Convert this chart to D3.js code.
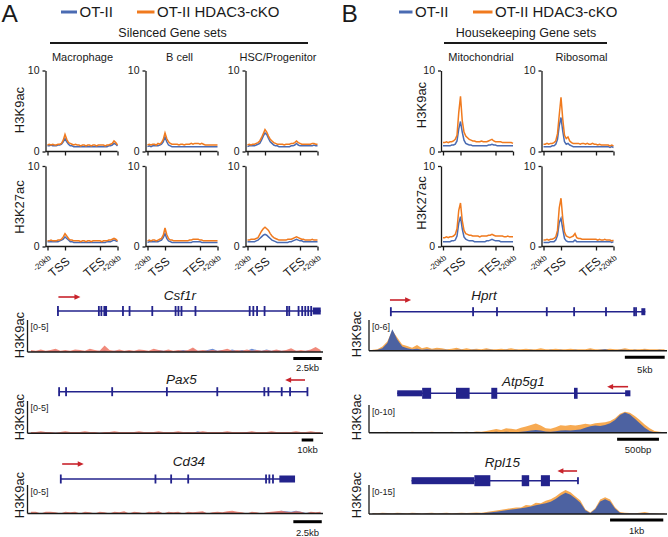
<!DOCTYPE html>
<html><head><meta charset="utf-8">
<script src="https://cdn.jsdelivr.net/npm/d3@7"></script>
<style>
html,body{margin:0;padding:0;background:#fff;}
svg{display:block;font-family:"Liberation Sans",Arial,sans-serif;}
</style></head><body>
<svg id="c" width="668" height="537"></svg>
<script>
// ---------- labels ----------
const seriesNames = ["OT-II", "OT-II HDAC3-cKO"];
const silencedSets = ["Macrophage", "B cell", "HSC/Progenitor"];
const housekeepingSets = ["Mitochondrial", "Ribosomal"];
const marks = ["H3K9ac", "H3K27ac"];
const profileTicks = ["-20kb", "TSS", "TES", "+20kb"];
const profileTickPos = [0, 10, 30, 40];
const profileYTicks = [0, 10];

// ---------- metagene profiles (41 bins: -20kb .. TSS .. TES .. +20kb) ----------
const macK9o = [0.8,0.9,0.8,0.9,0.8,0.8,0.9,0.9,1.0,1.4,2.1,1.5,1.1,1.0,0.9,0.8,0.9,0.8,0.8,0.7,0.8,0.8,0.7,0.8,0.8,0.7,0.8,0.8,0.7,0.8,0.8,0.8,0.8,0.7,0.8,0.8,0.9,1.0,1.3,1.1,0.8];
const macK9b = [0.7,0.7,0.8,0.7,0.7,0.7,0.8,0.8,0.9,1.2,1.6,1.2,0.9,0.7,0.7,0.6,0.6,0.6,0.6,0.6,0.6,0.6,0.6,0.6,0.6,0.6,0.6,0.6,0.6,0.6,0.6,0.6,0.6,0.6,0.6,0.7,0.7,0.8,1.0,0.9,0.7];
const bK9o = [0.8,0.9,0.8,0.9,0.9,0.8,1.0,0.9,1.1,1.5,2.3,1.6,1.2,1.0,0.9,0.9,0.9,0.9,0.8,0.9,0.9,0.8,0.9,0.9,0.9,1.0,0.9,1.0,1.0,1.0,0.9,1.0,0.9,0.8,0.8,0.8,0.8,0.8,0.8,0.8,0.8];
const bK9b = [0.6,0.7,0.6,0.7,0.7,0.7,0.7,0.8,0.9,1.2,1.8,1.2,0.8,0.7,0.6,0.6,0.6,0.6,0.6,0.6,0.6,0.6,0.6,0.6,0.6,0.6,0.6,0.6,0.6,0.6,0.6,0.6,0.6,0.6,0.6,0.6,0.6,0.6,0.6,0.6,0.6];
const hscK9o = [0.8,0.9,0.8,0.9,0.9,1.0,1.1,1.3,1.7,2.2,2.7,2.4,1.9,1.5,1.3,1.1,1.0,0.9,0.9,0.9,0.9,0.8,0.9,0.9,0.9,1.0,1.0,1.1,1.3,1.1,1.0,0.9,0.9,0.9,0.9,0.9,0.9,1.0,1.0,0.9,0.9];
const hscK9b = [0.6,0.7,0.7,0.7,0.7,0.8,0.9,1.0,1.4,1.9,2.3,2.1,1.6,1.2,1.0,0.8,0.7,0.7,0.6,0.6,0.6,0.6,0.6,0.6,0.6,0.7,0.7,0.8,1.0,0.8,0.7,0.7,0.7,0.7,0.7,0.7,0.7,0.7,0.8,0.7,0.7];
const macK27o = [0.7,0.7,0.8,0.7,0.7,0.7,0.8,0.8,0.9,1.2,1.6,1.3,1.0,0.8,0.8,0.7,0.7,0.7,0.7,0.6,0.7,0.7,0.6,0.7,0.7,0.6,0.7,0.7,0.7,0.7,0.7,0.6,0.7,0.7,0.7,0.8,0.8,0.9,1.0,0.9,0.7];
const macK27b = [0.6,0.6,0.6,0.6,0.6,0.6,0.6,0.7,0.8,0.9,1.2,1.0,0.8,0.6,0.6,0.5,0.5,0.5,0.5,0.5,0.5,0.5,0.5,0.5,0.5,0.5,0.5,0.5,0.5,0.5,0.5,0.5,0.5,0.5,0.6,0.6,0.6,0.7,0.8,0.7,0.6];
const bK27o = [0.7,0.8,0.7,0.8,0.8,0.7,0.8,0.9,1.0,1.4,2.3,1.5,1.0,0.8,0.8,0.7,0.7,0.7,0.7,0.7,0.7,0.7,0.7,0.7,0.8,0.8,0.9,0.9,0.9,0.9,0.8,0.8,0.7,0.7,0.7,0.7,0.7,0.7,0.7,0.7,0.7];
const bK27b = [0.5,0.6,0.6,0.6,0.6,0.6,0.6,0.7,0.8,1.1,1.6,1.0,0.7,0.6,0.5,0.5,0.5,0.5,0.5,0.5,0.5,0.5,0.5,0.5,0.5,0.5,0.6,0.6,0.6,0.6,0.6,0.5,0.5,0.5,0.5,0.5,0.5,0.5,0.5,0.5,0.5];
const hscK27o = [0.8,0.8,0.9,0.9,0.9,1.0,1.1,1.5,1.9,2.2,2.4,2.2,2.0,1.6,1.3,1.1,1.0,0.9,0.8,0.8,0.8,0.8,0.8,0.9,0.9,0.9,1.0,1.1,1.2,1.1,1.0,0.9,0.9,0.8,0.8,0.8,0.8,0.9,0.8,0.8,0.8];
const hscK27b = [0.6,0.6,0.6,0.6,0.6,0.7,0.8,1.0,1.2,1.4,1.5,1.4,1.2,1.0,0.8,0.7,0.6,0.5,0.5,0.5,0.5,0.5,0.5,0.5,0.6,0.6,0.7,0.8,0.9,0.8,0.7,0.7,0.6,0.6,0.6,0.6,0.6,0.6,0.6,0.6,0.6];
const mitK9o = [1.1,1.1,1.2,1.1,1.2,1.2,1.3,1.5,2.0,4.8,6.8,3.8,2.4,1.9,1.7,1.5,1.4,1.3,1.3,1.2,1.2,1.2,1.3,1.2,1.2,1.2,1.3,1.4,1.5,1.3,1.2,1.2,1.2,1.2,1.1,1.1,1.1,1.1,1.1,1.1,1.0];
const mitK9b = [0.7,0.7,0.7,0.7,0.7,0.8,0.8,0.9,1.3,2.8,3.7,2.4,1.4,1.0,0.9,0.8,0.8,0.7,0.7,0.7,0.7,0.7,0.7,0.7,0.7,0.7,0.8,0.8,0.9,0.8,0.8,0.7,0.7,0.7,0.7,0.7,0.7,0.7,0.7,0.7,0.7];
const riboK9o = [0.9,0.9,1.0,0.9,1.0,1.0,1.1,1.3,2.2,4.5,6.7,4.0,2.0,1.6,1.8,1.3,1.1,1.0,1.0,1.0,1.0,0.9,1.0,1.0,0.9,1.0,0.9,0.9,1.0,0.9,0.9,0.8,0.9,0.8,0.8,0.8,0.8,0.8,0.7,0.8,0.7];
const riboK9b = [0.6,0.6,0.6,0.6,0.6,0.7,0.7,0.9,1.5,3.2,4.2,2.5,1.2,0.9,1.0,0.8,0.7,0.6,0.6,0.6,0.6,0.6,0.6,0.6,0.6,0.6,0.6,0.6,0.6,0.6,0.6,0.6,0.6,0.6,0.6,0.6,0.6,0.6,0.5,0.6,0.5];
const mitK27o = [1.1,1.1,1.2,1.1,1.2,1.2,1.3,1.5,2.2,4.5,5.4,3.2,2.0,1.6,1.5,1.4,1.4,1.3,1.3,1.3,1.3,1.2,1.3,1.3,1.3,1.3,1.4,1.4,1.5,1.4,1.3,1.3,1.3,1.3,1.3,1.2,1.2,1.3,1.2,1.2,1.2];
const mitK27b = [0.6,0.6,0.6,0.6,0.6,0.7,0.7,0.8,1.3,2.9,3.7,2.2,1.2,0.9,0.8,0.7,0.7,0.7,0.6,0.6,0.6,0.6,0.6,0.6,0.6,0.7,0.7,0.8,0.9,0.8,0.7,0.7,0.7,0.6,0.6,0.6,0.6,0.6,0.6,0.6,0.6];
const riboK27o = [0.8,0.8,0.9,0.8,0.9,0.9,1.0,1.2,2.0,4.8,6.0,3.5,1.8,1.3,1.2,1.1,1.2,1.3,1.6,1.1,1.0,1.0,0.9,0.9,0.9,0.9,0.9,0.9,0.9,0.9,0.9,0.8,0.9,0.8,0.8,0.9,0.8,0.8,0.8,0.7,0.8];
const riboK27b = [0.5,0.5,0.5,0.5,0.6,0.6,0.6,0.8,1.4,3.0,3.5,2.2,1.0,0.7,0.6,0.6,0.6,0.6,0.8,0.6,0.6,0.6,0.6,0.6,0.6,0.6,0.6,0.6,0.6,0.6,0.6,0.6,0.6,0.6,0.6,0.6,0.6,0.6,0.6,0.5,0.6];

// ---------- browser tracks (60 bins across window) ----------
const csfRed = [0.3,0.2,0.4,0.2,0.3,0.5,0.2,0.3,0.2,0.4, 0.3,0.2,0.5,0.3,0.2,1.0,0.3,0.2,0.4,0.2, 0.3,0.2,0.4,0.3,0.2,0.5,0.3,0.2,0.4,0.2, 0.3,0.2,0.3,0.7,0.2,0.3,0.2,0.3,0.2,0.3, 0.5,0.2,0.3,0.2,0.4,0.2,0.3,0.2,0.3,0.2, 0.4,0.2,0.3,0.6,0.2,0.3,0.2,0.4,0.8,0.3];
const csfBlue = [0.2,0.1,0.2,0.1,0.2,0.3,0.1,0.2,0.1,0.2, 0.2,0.1,0.2,0.1,0.2,0.3,0.1,0.2,0.2,0.1, 0.2,0.1,0.2,0.2,0.1,0.2,0.3,0.2,0.2,0.1, 0.2,0.3,0.2,0.4,0.2,0.2,0.3,0.5,0.2,0.3, 0.2,0.4,0.2,0.3,0.2,0.5,0.3,0.2,0.4,0.2, 0.3,0.2,0.2,0.3,0.2,0.1,0.2,0.3,0.2,0.2];
const paxRed = [0.2,0.2,0.3,0.2,0.2,0.1,0.2,0.3,0.2,0.2, 0.2,0.3,0.2,0.2,0.1,0.2,0.2,0.3,0.2,0.2, 0.2,0.2,0.3,0.2,0.2,0.2,0.3,0.2,0.2,0.2, 0.3,0.2,0.2,0.2,0.2,0.3,0.2,0.2,0.2,0.2, 0.3,0.2,0.2,0.2,0.2,0.3,0.2,0.2,0.2,0.3, 0.2,0.2,0.2,0.2,0.3,0.2,0.2,0.3,0.2,0.2];
const paxBlue = [0.1,0.1,0.1,0.2,0.1,0.1,0.1,0.1,0.1,0.1, 0.1,0.1,0.1,0.1,0.1,0.1,0.2,0.1,0.1,0.1, 0.1,0.1,0.1,0.1,0.1,0.1,0.1,0.1,0.1,0.1, 0.1,0.1,0.2,0.1,0.3,0.1,0.1,0.1,0.1,0.1, 0.1,0.1,0.1,0.1,0.2,0.1,0.1,0.1,0.1,0.1, 0.1,0.1,0.1,0.1,0.1,0.1,0.1,0.1,0.1,0.1];
const cdRed = [0.3,0.3,0.0,0.3,0.3,0.2,0.0,0.3,0.2,0.3, 0.0,0.3,0.2,0.0,0.3,0.2,0.0,0.3,0.2,0.4, 0.0,0.3,0.2,0.0,0.3,0.2,0.4,0.0,0.3,0.2, 0.3,0.0,0.3,0.2,0.3,0.4,0.0,0.2,0.3,0.2, 0.4,0.5,0.3,0.2,0.0,0.3,0.2,0.0,0.2,0.3, 0.4,0.5,0.3,0.2,0.4,0.3,0.0,0.3,0.2,0.3];
const cdBlue = [0.1,0.1,0.0,0.1,0.1,0.1,0.0,0.1,0.1,0.1, 0.0,0.1,0.1,0.0,0.1,0.1,0.0,0.1,0.1,0.1, 0.0,0.1,0.1,0.0,0.1,0.1,0.2,0.0,0.1,0.1, 0.1,0.0,0.1,0.1,0.1,0.2,0.0,0.1,0.1,0.1, 0.2,0.2,0.1,0.1,0.0,0.1,0.1,0.0,0.1,0.2, 0.3,0.5,0.4,0.3,0.5,0.3,0.1,0.2,0.1,0.2];
const hprtOr = [0.2,0.3,0.8,1.8,4.0,2.6,1.2,0.9,0.6,1.1, 0.5,0.7,0.4,0.6,0.5,0.3,0.4,0.6,0.3,0.5, 0.3,0.4,0.3,0.5,0.3,0.3,0.4,0.3,0.5,0.3, 0.3,0.4,0.3,0.3,0.5,0.3,0.3,0.4,0.3,0.3, 0.4,0.3,0.3,0.3,0.5,0.3,0.3,0.3,0.4,0.3, 0.3,0.5,0.3,0.3,0.3,0.4,0.3,0.3,0.3,0.3];
const hprtBlue = [0.1,0.2,0.5,1.5,4.2,2.2,0.8,0.5,0.3,0.4, 0.2,0.3,0.2,0.2,0.2,0.2,0.1,0.2,0.2,0.1, 0.2,0.2,0.1,0.2,0.2,0.1,0.1,0.2,0.1,0.2, 0.1,0.1,0.2,0.1,0.1,0.1,0.2,0.1,0.2,0.1, 0.1,0.2,0.1,0.1,0.2,0.1,0.2,0.3,0.1,0.1, 0.2,0.2,0.1,0.2,0.1,0.2,0.1,0.1,0.2,0.1];
const atpOr = [0.2,0.1,0.2,0.3,0.1,0.2,0.2,0.1,0.3,0.2, 0.1,0.2,0.3,0.2,0.1,0.2,0.3,0.2,0.2,0.3, 0.2,0.4,0.3,0.6,1.0,1.3,1.0,1.6,1.4,1.2, 1.8,2.2,2.8,3.3,2.6,1.6,1.4,2.0,2.7,2.5, 2.8,2.6,2.9,3.2,3.0,3.4,3.6,3.8,4.2,5.2, 6.8,7.6,7.2,6.0,4.6,3.0,1.6,0.6,0.3,0.2];
const atpBlue = [0.1,0.1,0.0,0.1,0.1,0.0,0.1,0.1,0.1,0.0, 0.1,0.1,0.0,0.1,0.1,0.1,0.0,0.1,0.1,0.1, 0.1,0.0,0.1,0.2,0.2,0.3,0.2,0.3,0.2,0.2, 0.3,0.5,0.8,1.0,0.8,0.4,0.3,0.5,0.8,0.9, 0.8,1.0,1.2,1.8,2.3,2.6,2.4,2.8,3.4,4.6, 6.4,7.3,6.6,5.0,3.4,1.8,0.6,0.2,0.1,0.1];
const rplOr = [0.5,0.4,0.6,0.5,0.4,0.7,0.5,0.4,0.6,0.5, 0.3,0.5,0.6,0.4,0.5,0.6,0.4,0.5,0.7,0.5, 0.6,0.8,0.7,1.0,1.4,1.8,2.2,2.6,3.0,3.3, 3.4,4.6,4.4,5.8,5.6,6.8,7.6,9.0,11.0,12.4, 11.2,9.0,7.0,2.5,0.8,3.0,7.5,8.6,7.5,3.5, 1.0,0.6,0.5,0.4,0.6,1.0,0.5,0.4,0.3,0.3];
const rplBlue = [0.2,0.1,0.2,0.2,0.1,0.3,0.2,0.1,0.2,0.2, 0.1,0.2,0.2,0.1,0.2,0.3,0.1,0.2,0.3,0.2, 0.3,0.4,0.4,0.6,0.9,1.2,1.6,2.0,2.3,2.6, 3.0,3.4,3.9,4.5,5.0,5.6,6.4,7.8,9.6,11.0, 10.0,8.0,5.8,2.0,0.5,2.5,6.5,7.6,6.5,2.8, 0.6,0.2,0.2,0.2,0.3,0.4,0.2,0.2,0.1,0.1];

// ---------- gene models (kb from window start) ----------
const csfGene = [2.6, 25.8];
const csfExons = [[2.6,2.72],[6.2,6.32],[6.42,6.54],[6.68,7.0],[8.32,8.44],[8.9,9.02],[10.9,11.02],[12.95,13.07],[13.2,13.32],[13.47,13.59],[14.7,14.82],[19.47,19.59],[19.79,19.91],[20.12,20.24],[20.78,20.9],[22.75,22.87],[22.95,23.07],[23.77,23.89],[24.09,24.21],[24.36,24.48],[24.62,24.74],[24.88,25.0]];
const csfUtr = [[25.1,25.8]];
const paxGene = [27, 241.5];
const paxExons = [[26.5,28],[32.5,34],[72.3,73.8],[119.5,121],[163,164.5],[203.6,205.1],[207.1,208.6],[218.6,220.1],[225.8,227.3],[240.8,242.3]];
const paxUtr = [];
const cdGene = [2.9, 23.54];
const cdExons = [[2.85,2.97],[11.18,11.3],[12.56,12.68],[14.06,14.18],[20.91,21.03],[21.2,21.32],[21.52,21.64]];
const cdUtr = [[22.16,23.54]];
const hprtGene = [2.71, 34.68];
const hprtExons = [[2.63,2.83],[12.95,13.15],[15.95,16.15],[22.2,22.4],[25.63,25.83],[29.63,29.83],[33.17,33.37],[33.4,33.6]];
const hprtUtr = [[34.18,34.68]];
const atpGene = [0.337, 3.115];
const atpExons = [[0.635,0.742],[1.039,1.202],[1.461,1.532],[2.449,2.492]];
const atpUtr = [[0.337,0.635],[3.06,3.123]];
const rplGene = [0.80, 3.93];
const rplExons = [[1.98,2.28],[2.87,3.01],[3.23,3.40]];
const rplUtr = [[0.80,1.98],[3.91,3.94]];

// ---------- drawing ----------
const FONT = '"Liberation Sans", Arial, sans-serif';
const BLUE = "#4a6bb2", ORANGE = "#f07a1e";
const A_RED = "#ee7664", A_BLUE = "#6f8fd6";
const B_OR = "#f7aa52", B_BLUE = "#3e5ca8";
const NAVY = "#23238c", ARROWC = "#c8232b", INK = "#1a1a1a";
const svg = d3.select("#c");

function txt(x, y, s, size, opts = {}) {
  return svg.append("text").attr("x", x).attr("y", y).text(s)
    .attr("font-size", size).attr("text-anchor", opts.anchor || "start")
    .attr("font-style", opts.italic ? "italic" : null).attr("fill", opts.fill || INK);
}

// Panel letters and legends
txt(1.5, 22, "A", 24.5);
txt(341.5, 22, "B", 24.5);
function legend(lx) {
  const cols = [BLUE, ORANGE];
  lx.forEach((p, i) => {
    svg.append("line").attr("x1", p[0]).attr("x2", p[1]).attr("y1", 12).attr("y2", 12)
      .attr("stroke", cols[i]).attr("stroke-width", 3);
    txt(p[1] + 2.5, 17, seriesNames[i], 15);
  });
}
legend([[61, 77], [137, 154.5]]);
legend([[399, 412.5], [473, 492.5]]);

// Group headers
txt(172.5, 37, "Silenced Gene sets", 12.5, {anchor: "middle"});
svg.append("line").attr("x1", 50).attr("x2", 308).attr("y1", 43).attr("y2", 43).attr("stroke", INK).attr("stroke-width", 2);
txt(526, 37, "Housekeeping Gene sets", 12.5, {anchor: "middle"});
svg.append("line").attr("x1", 444).attr("x2", 607).attr("y1", 43).attr("y2", 43).attr("stroke", INK).attr("stroke-width", 2);

const setX_A = [82.5, 179.5, 278];
silencedSets.forEach((s, i) => txt(setX_A[i], 61, s, 11, {anchor: "middle"}));
const setX_B = [481, 581.5];
housekeepingSets.forEach((s, i) => txt(setX_B[i], 61, s, 11, {anchor: "middle"}));

function profile(x0, base, top, oData, bData, showLabels) {
  const g = svg.append("g");
  const x = d3.scaleLinear().domain([0, oData.length - 1]).range([x0 + 2, x0 + 72]);
  const y = d3.scaleLinear().domain([0, 10]).range([base, top]);
  const line = d3.line().x((d, i) => x(i)).y(d => y(d));
  g.append("path").datum(bData).attr("d", line).attr("fill", "none").attr("stroke", BLUE).attr("stroke-width", 1.5);
  g.append("path").datum(oData).attr("d", line).attr("fill", "none").attr("stroke", ORANGE).attr("stroke-width", 1.5);
  const ya = g.append("g").attr("transform", `translate(${x0},0)`)
    .call(d3.axisLeft(y).tickValues(profileYTicks).tickSize(3).tickSizeOuter(0).tickPadding(3));
  ya.attr("font-family", FONT).attr("font-size", 10.5);
  ya.selectAll("path,line").attr("stroke", INK).attr("stroke-width", 1.3);
  ya.selectAll("text").attr("fill", INK);
  const xa = g.append("g").attr("transform", `translate(0,${base})`)
    .call(d3.axisBottom(x).tickValues(profileTickPos).tickSize(4).tickSizeOuter(0).tickFormat(""));
  xa.select(".domain").attr("d", `M${x0},0H${x0 + 72}`);
  xa.selectAll("path,line").attr("stroke", INK).attr("stroke-width", 1.3);
  if (showLabels) {
    profileTicks.forEach((t, i) => {
      const big = (t === "TSS" || t === "TES");
      g.append("text").text(t)
        .attr("transform", `translate(${x(profileTickPos[i]) + (big ? 3 : 2)},${base + (big ? 13 : 10)}) rotate(-40)`)
        .attr("text-anchor", "end").attr("dy", "0.35em")
        .attr("font-size", big ? 12 : 8).attr("fill", INK);
    });
  }
}

const colA = [45.5, 145.5, 245.5];
const colB = [441, 541.5];
const rowTop = [[151.5, 70.5], [246.5, 166]];
const profA = [[macK9o, macK9b, bK9o, bK9b, hscK9o, hscK9b], [macK27o, macK27b, bK27o, bK27b, hscK27o, hscK27b]];
const profB = [[mitK9o, mitK9b, riboK9o, riboK9b], [mitK27o, mitK27b, riboK27o, riboK27b]];
rowTop.forEach((r, ri) => {
  colA.forEach((cx, ci) => profile(cx, r[0], r[1], profA[ri][ci * 2], profA[ri][ci * 2 + 1], ri === 1));
  colB.forEach((cx, ci) => profile(cx, r[0], r[1], profB[ri][ci * 2], profB[ri][ci * 2 + 1], ri === 1));
});
function vlabel(x, y, s, size) {
  svg.append("text").attr("transform", `translate(${x},${y}) rotate(-90)`).attr("text-anchor", "middle")
    .attr("font-size", size).attr("fill", INK).text(s);
}
vlabel(24, 110, marks[0], 13); vlabel(24, 207, marks[1], 13);
vlabel(426, 105, marks[0], 13); vlabel(426, 203, marks[1], 13);

// ---------- browser tracks ----------
const tracks = [
  {name: "Csf1r", o: csfRed, b: csfBlue, oc: A_RED, bc: A_BLUE, blueBelow: true, max: 5, span: 26,
   x0: 27.5, x1: 323, top: 320, base: 352, geneY: 311, gene: csfGene, exons: csfExons, utrs: csfUtr, exH: 10, utH: 7,
   arrow: [2.72, 4.66], arrowY: 297, nameX: 180, nameY: 300, scale: [23.39, 25.89], scaleText: "2.5kb", scaleY: 358.5, scaleTY: 371, ylx: 23.5, yly: 335},
  {name: "Pax5", o: paxRed, b: paxBlue, oc: A_RED, bc: A_BLUE, blueBelow: true, max: 5, span: 255,
   x0: 27.5, x1: 323, top: 401, base: 433.3, geneY: 391.7, gene: paxGene, exons: paxExons, utrs: paxUtr, exH: 9, utH: 7,
   arrow: [239.5, 222.3], arrowY: 380, nameX: 181.5, nameY: 383.5, scale: [236.6, 246.6], scaleText: "10kb", scaleY: 440, scaleTY: 452.5, ylx: 23.5, yly: 417},
  {name: "Cd34", o: cdRed, b: cdBlue, oc: A_RED, bc: A_BLUE, blueBelow: true, max: 5, span: 26,
   x0: 27.5, x1: 323, top: 485, base: 513.5, geneY: 479, gene: cdGene, exons: cdExons, utrs: cdUtr, exH: 9, utH: 7,
   arrow: [3.05, 4.95], arrowY: 464, nameX: 189, nameY: 466, scale: [23.39, 25.89], scaleText: "2.5kb", scaleY: 521.7, scaleTY: 536, ylx: 23.5, yly: 495},
  {name: "Hprt", o: hprtOr, b: hprtBlue, oc: B_OR, bc: B_BLUE, blueBelow: false, max: 6, span: 37.4,
   x0: 369, x1: 667, top: 320, base: 350.7, geneY: 311.7, gene: hprtGene, exons: hprtExons, utrs: hprtUtr, exH: 9, utH: 7,
   arrow: [2.63, 5.29], arrowY: 300, nameX: 484, nameY: 300, scale: [32.11, 37.11], scaleText: "5kb", scaleY: 357.3, scaleTY: 372.5, ylx: 361, yly: 334},
  {name: "Atp5g1", o: atpOr, b: atpBlue, oc: B_OR, bc: B_BLUE, blueBelow: false, max: 10, span: 3.56,
   x0: 369, x1: 667, top: 405, base: 432.7, geneY: 393.3, gene: atpGene, exons: atpExons, utrs: atpUtr, exH: 11, utH: 6,
   arrow: [3.095, 2.845], arrowY: 386.7, nameX: 523.5, nameY: 386, scale: [2.964, 3.464], scaleText: "500bp", scaleY: 439.3, scaleTY: 453.3, ylx: 361, yly: 417},
  {name: "Rpl15", o: rplOr, b: rplBlue, oc: B_OR, bc: B_BLUE, blueBelow: false, max: 15, span: 5.6,
   x0: 369, x1: 667, top: 485, base: 514, geneY: 480.7, gene: rplGene, exons: rplExons, utrs: rplUtr, exH: 11, utH: 7,
   arrow: [3.91, 3.54], arrowY: 471, nameX: 502.5, nameY: 466.5, scale: [4.53, 5.53], scaleText: "1kb", scaleY: 520, scaleTY: 534, ylx: 361, yly: 495}
];

function drawArrow(xa, xb, y) {
  const dir = xb > xa ? 1 : -1;
  svg.append("line").attr("x1", xa).attr("x2", xb - dir * 4).attr("y1", y).attr("y2", y)
    .attr("stroke", ARROWC).attr("stroke-width", 1.6);
  svg.append("path").attr("d", `M${xb},${y}L${xb - dir * 6},${y - 2.8}L${xb - dir * 6},${y + 2.8}Z`).attr("fill", ARROWC);
}

tracks.forEach(t => {
  const g = svg.append("g");
  const x = d3.scaleLinear().domain([0, t.span]).range([t.x0, t.x1]);
  const y = d3.scaleLinear().domain([0, t.max]).range([t.base, t.top]);
  const bin = d3.scaleBand().domain(d3.range(t.o.length)).range([t.x0 + 1, t.x1]).padding(0);
  const area = d3.area().x((d, i) => bin(i) + bin.bandwidth() / 2).y0(t.base).y1(d => y(d));
  const layers = t.blueBelow ? [[t.b, t.bc, 1], [t.o, t.oc, 0.85]] : [[t.o, t.oc, 1], [t.b, t.bc, 0.92]];
  layers.forEach(([data, col, op]) => {
    g.append("path").datum(data).attr("d", area).attr("fill", col).attr("opacity", op);
  });
  // track axes
  g.append("line").attr("x1", t.x0).attr("x2", t.x0).attr("y1", t.top).attr("y2", t.base).attr("stroke", INK).attr("stroke-width", 1.3);
  g.append("line").attr("x1", t.x0).attr("x2", t.x1).attr("y1", t.base).attr("y2", t.base).attr("stroke", INK).attr("stroke-width", 1.5);
  txt(t.x0 + 3, t.top + 9.5, `[0-${t.max}]`, 9);
  // gene model
  g.append("line").attr("x1", x(t.gene[0])).attr("x2", x(t.gene[1])).attr("y1", t.geneY).attr("y2", t.geneY)
    .attr("stroke", NAVY).attr("stroke-width", 1.5);
  g.selectAll("rect.ex").data(t.exons).join("rect").attr("class", "ex")
    .attr("x", d => x(d[0])).attr("width", d => Math.max(1.8, x(d[1]) - x(d[0])))
    .attr("y", t.geneY - t.exH / 2).attr("height", t.exH).attr("fill", NAVY);
  g.selectAll("rect.ut").data(t.utrs).join("rect").attr("class", "ut")
    .attr("x", d => x(d[0])).attr("width", d => Math.max(1.8, x(d[1]) - x(d[0])))
    .attr("y", t.geneY - t.utH / 2).attr("height", t.utH).attr("fill", NAVY);
  drawArrow(x(t.arrow[0]), x(t.arrow[1]), t.arrowY);
  txt(t.nameX, t.nameY, t.name, 13.5, {anchor: "middle", italic: true});
  // scale bar
  g.append("line").attr("x1", x(t.scale[0])).attr("x2", x(t.scale[1])).attr("y1", t.scaleY).attr("y2", t.scaleY)
    .attr("stroke", "#000").attr("stroke-width", 3);
  txt((x(t.scale[0]) + x(t.scale[1])) / 2, t.scaleTY, t.scaleText, 9.5, {anchor: "middle"});
  vlabel(t.ylx, t.yly, "H3K9ac", 13);
});
</script>
</body></html>
